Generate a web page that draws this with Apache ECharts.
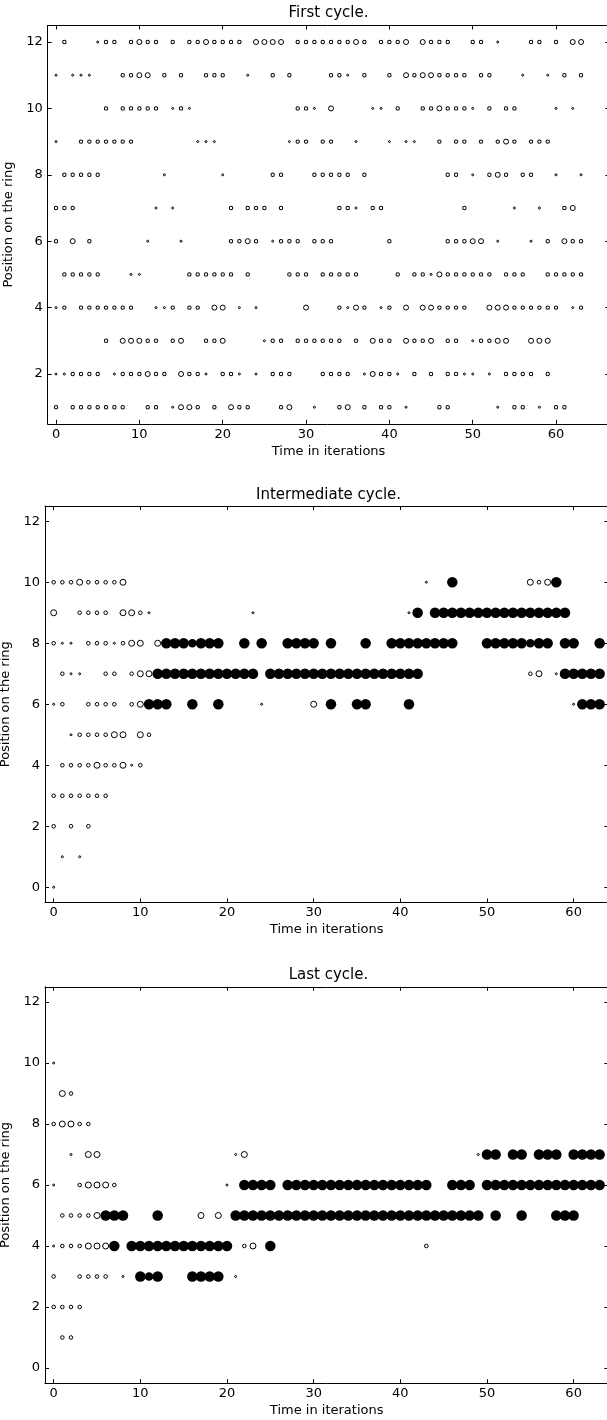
<!DOCTYPE html>
<html>
<head>
<meta charset="utf-8">
<script src="https://cdn.jsdelivr.net/npm/echarts@6/dist/echarts.min.js"></script>
<style>
html,body{margin:0;padding:0;background:#fff;}
#chart{width:607px;height:1420px;}
</style>
</head>
<body>
<div id="chart"></div>
<script>
// ---------- data: rows of [position on ring, [iterations]] ----------
const titles = ['First cycle.', 'Intermediate cycle.', 'Last cycle.'];
const xTicks = [0, 10, 20, 30, 40, 50, 60];
const yTicks1 = [2, 4, 6, 8, 10, 12];
const yTicks23 = [0, 2, 4, 6, 8, 10, 12];

// Panel 1 — First cycle (open circles only)
const firstTiny = [
  [12, [5, 53]],
  [11, [0, 2, 3, 4, 23, 35, 56, 59]],
  [10, [14, 16, 31, 38, 39, 50, 60, 62]],
  [9, [0, 17, 18, 19, 28, 36, 40, 42, 43]],
  [8, [13, 20, 50, 60, 63]],
  [7, [12, 14, 36, 55, 58]],
  [6, [11, 15, 26, 53, 57]],
  [5, [9, 10, 45]],
  [4, [0, 12, 13, 22, 24, 35, 39, 62]],
  [3, [25, 50]],
  [2, [0, 1, 7, 18, 22, 24, 37, 41, 49, 50, 52]],
  [1, [14, 31, 42, 53, 58]]
];
const firstSmall = [
  [12, [1, 6, 7, 9, 11, 12, 14, 16, 17, 19, 20, 21, 22, 29, 30, 31, 32, 33, 34, 35, 37, 39, 40, 41, 45, 46, 47, 50, 51, 57, 58, 60]],
  [11, [8, 9, 13, 15, 18, 19, 20, 26, 28, 33, 34, 37, 40, 43, 46, 47, 48, 49, 51, 52, 61, 63]],
  [10, [6, 8, 9, 10, 11, 12, 15, 29, 30, 41, 44, 45, 47, 48, 49, 52, 54, 55]],
  [9, [3, 4, 5, 6, 7, 8, 9, 29, 30, 32, 33, 46, 48, 49, 51, 53, 55, 57, 58, 59]],
  [8, [1, 2, 3, 4, 5, 26, 27, 31, 32, 33, 34, 35, 37, 47, 48, 52, 54, 56, 57]],
  [7, [0, 1, 2, 21, 23, 24, 25, 27, 34, 35, 38, 39, 49, 61]],
  [6, [0, 4, 21, 22, 24, 27, 28, 29, 31, 32, 33, 40, 47, 48, 49, 59, 62, 63]],
  [5, [1, 2, 3, 4, 5, 16, 17, 18, 19, 20, 21, 23, 28, 29, 30, 32, 33, 34, 35, 36, 41, 43, 44, 47, 48, 49, 50, 51, 52, 54, 55, 56, 59, 60, 61, 62, 63]],
  [4, [1, 3, 4, 5, 6, 7, 8, 9, 14, 16, 17, 34, 37, 40, 46, 47, 48, 49, 55, 56, 57, 58, 59, 60, 63]],
  [3, [6, 11, 12, 14, 18, 19, 26, 27, 29, 30, 31, 32, 33, 34, 36, 39, 40, 43, 44, 47, 48, 51, 52]],
  [2, [2, 3, 4, 5, 8, 9, 10, 12, 13, 16, 17, 20, 21, 26, 27, 28, 32, 33, 34, 35, 39, 40, 43, 45, 47, 48, 54, 55, 56, 57, 59]],
  [1, [0, 2, 3, 4, 5, 6, 7, 8, 11, 12, 17, 19, 22, 23, 27, 34, 37, 39, 40, 46, 47, 55, 56, 60, 61]]
];
const firstMedium = [
  [12, [10, 18, 24, 25, 26, 27, 36, 42, 44, 62, 63]],
  [11, [10, 11, 42, 44, 45]],
  [10, [33, 46]],
  [9, [54]],
  [8, [53]],
  [7, [62]],
  [6, [2, 23, 50, 51, 61]],
  [5, [46]],
  [4, [19, 20, 30, 36, 42, 44, 45, 52, 53, 54]],
  [3, [8, 9, 10, 15, 20, 38, 42, 45, 53, 54, 57, 58, 59]],
  [2, [11, 15, 38]],
  [1, [15, 16, 21, 28, 35]]
];

// Panel 2 — Intermediate cycle
const midTiny = [
  [10, [43]], [9, [11, 23, 41]], [8, [1, 2, 7]], [7, [2, 3, 58]],
  [6, [0, 24, 60]], [5, [2]], [4, [9]], [1, [1, 3]], [0, [0]]
];
const midSmall = [
  [10, [0, 1, 2, 4, 5, 6, 7, 56]],
  [9, [3, 4, 5, 6, 10]],
  [8, [0, 4, 5, 6, 8]],
  [7, [1, 6, 7, 9, 55]],
  [6, [1, 4, 5, 6, 7, 9]],
  [5, [3, 4, 5, 6, 11]],
  [4, [1, 2, 3, 4, 6, 7, 10]],
  [3, [0, 1, 2, 3, 4, 5, 6]],
  [2, [0, 2, 4]]
];
const midMedium = [
  [10, [3, 8, 55, 57]], [9, [0, 8, 9]], [8, [9, 10, 12]], [7, [10, 11, 56]],
  [6, [10, 30]], [5, [7, 8, 10]], [4, [5, 8]]
];
const midFilled = [
  [10, [46, 58]],
  [9, [42, 44, 45, 46, 47, 48, 49, 50, 51, 52, 53, 54, 55, 56, 57, 58, 59]],
  [8, [13, 14, 15, 17, 18, 19, 22, 24, 27, 28, 29, 30, 32, 36, 39, 40, 41, 42, 43, 44, 45, 46, 50, 51, 52, 53, 54, 56, 57, 59, 60, 63]],
  [7, [12, 13, 14, 15, 16, 17, 18, 19, 20, 21, 22, 23, 25, 26, 27, 28, 29, 30, 31, 32, 33, 34, 35, 36, 37, 38, 39, 40, 41, 42, 59, 60, 61, 62, 63]],
  [6, [11, 12, 13, 16, 19, 32, 35, 36, 41, 61, 62, 63]]
];
const midFilledSmall = [
  [8, [16, 55]]
];

// Panel 3 — Last cycle
const lastTiny = [
  [10, [0]], [7, [2, 21, 49]], [6, [0, 20]], [4, [0]], [3, [8, 21]]
];
const lastSmall = [
  [9, [2]], [8, [0, 3, 4]], [6, [3, 7]], [5, [1, 2, 3, 4]],
  [4, [1, 2, 3, 22, 43]], [3, [0, 3, 4, 5, 6]], [2, [0, 1, 2, 3]], [1, [1, 2]]
];
const lastMedium = [
  [9, [1]], [8, [1, 2]], [7, [4, 5, 22]], [6, [4, 5, 6]], [5, [5, 17, 19]], [4, [4, 5, 6, 23]]
];
const lastFilled = [
  [7, [50, 51, 53, 54, 56, 57, 58, 60, 61, 62, 63]],
  [6, [22, 23, 24, 25, 27, 28, 29, 30, 31, 32, 33, 34, 35, 36, 37, 38, 39, 40, 41, 42, 43, 46, 47, 48, 50, 51, 52, 53, 54, 55, 56, 57, 58, 59, 60, 61, 62, 63]],
  [5, [6, 7, 8, 12, 21, 22, 23, 24, 25, 26, 27, 28, 29, 30, 31, 32, 33, 34, 35, 36, 37, 38, 39, 40, 41, 42, 43, 44, 45, 46, 47, 48, 49, 51, 54, 58, 59, 60]],
  [4, [7, 9, 10, 11, 12, 13, 14, 15, 16, 17, 18, 19, 20, 25]],
  [3, [10, 12, 16, 17, 18, 19]]
];
const lastFilledSmall = [
  [3, [11]]
];

// ---------- layout ----------
const FONT = 'DejaVu Sans';
const grids = [
  { left: 47.7, top: 25.4, width: 561.7, height: 398.4, outerBoundsMode: 'none', containLabel: false },
  { left: 45, top: 506, width: 563.3, height: 396.5, outerBoundsMode: 'none', containLabel: false },
  { left: 45, top: 986.75, width: 563.3, height: 396.5, outerBoundsMode: 'none', containLabel: false }
];
const xRanges = [[-1, 66.4], [-1, 64], [-1, 64]];
const yRanges = [[0.5, 12.5], [-0.5, 12.5], [-0.5, 12.5]];
const yTickSets = [yTicks1, yTicks23, yTicks23];
const titleY = [13, 495, 975.5];

function flat(rows) {
  const out = [];
  for (const [y, xs] of rows) for (const x of xs) out.push([x, y]);
  return out;
}

const line = { show: true, onZero: false, lineStyle: { color: '#000', width: 1 } };
const xAxes = [], yAxes = [];
grids.forEach((g, i) => {
  const tick = { inside: true, length: 4, lineStyle: { color: '#000', width: 1 } };
  xAxes.push({
    gridIndex: i, type: 'value', position: 'bottom', min: xRanges[i][0], max: xRanges[i][1],
    axisLine: line, splitLine: { show: false },
    axisTick: Object.assign({ customValues: xTicks }, tick),
    axisLabel: { customValues: xTicks, color: '#000', fontFamily: FONT, fontSize: 13, margin: 4 },
    name: 'Time in iterations', nameLocation: 'middle', nameGap: 21,
    nameTextStyle: { fontFamily: FONT, fontSize: 13, color: '#000' }
  });
  xAxes.push({
    gridIndex: i, type: 'value', position: 'top', min: xRanges[i][0], max: xRanges[i][1],
    axisLine: line, splitLine: { show: false },
    axisTick: Object.assign({ customValues: xTicks }, tick),
    axisLabel: { show: false }
  });
  yAxes.push({
    gridIndex: i, type: 'value', position: 'left', min: yRanges[i][0], max: yRanges[i][1],
    axisLine: line, splitLine: { show: false },
    axisTick: Object.assign({ customValues: yTickSets[i] }, tick),
    axisLabel: { customValues: yTickSets[i], color: '#000', fontFamily: FONT, fontSize: 13, margin: 5 },
    name: 'Position on the ring', nameLocation: 'middle', nameGap: 26, nameRotate: 90,
    nameTextStyle: { fontFamily: FONT, fontSize: 13, color: '#000' }
  });
  yAxes.push({
    gridIndex: i, type: 'value', position: 'right', min: yRanges[i][0], max: yRanges[i][1],
    axisLine: line, splitLine: { show: false },
    axisTick: Object.assign({ customValues: yTickSets[i] }, tick),
    axisLabel: { show: false }
  });
});

function openSeries(i, rows, size) {
  return {
    type: 'scatter', xAxisIndex: i * 2, yAxisIndex: i * 2, silent: true,
    symbol: 'circle', symbolSize: size, data: flat(rows),
    itemStyle: { color: 'rgba(255,255,255,0)', borderColor: '#000', borderWidth: 1, opacity: 1 },
    emphasis: { disabled: true }
  };
}
function filledSeries(i, rows, size) {
  return {
    type: 'scatter', xAxisIndex: i * 2, yAxisIndex: i * 2, silent: true,
    symbol: 'circle', symbolSize: size, data: flat(rows),
    itemStyle: { color: '#000', borderWidth: 0, opacity: 1 },
    emphasis: { disabled: true }
  };
}

const series = [
  openSeries(0, firstTiny, 2),
  openSeries(0, firstSmall, 3.4),
  openSeries(0, firstMedium, 5),
  openSeries(1, midTiny, 2),
  openSeries(1, midSmall, 3.6),
  openSeries(1, midMedium, 6),
  filledSeries(1, midFilled, 10.5),
  filledSeries(1, midFilledSmall, 8.5),
  openSeries(2, lastTiny, 2),
  openSeries(2, lastSmall, 3.6),
  openSeries(2, lastMedium, 6),
  filledSeries(2, lastFilled, 10.5),
  filledSeries(2, lastFilledSmall, 8.5)
];

const graphic = titles.map((t, i) => ({
  type: 'text', x: grids[i].left + (i === 0 ? 280.8 : 283.5), y: titleY[i], silent: true,
  style: { text: t, font: '15px "DejaVu Sans"', fill: '#000', textAlign: 'center', textVerticalAlign: 'middle' }
}));

const chart = echarts.init(document.getElementById('chart'), null, { renderer: 'canvas' });
chart.setOption({
  backgroundColor: '#fff',
  animation: false,
  grid: grids,
  xAxis: xAxes,
  yAxis: yAxes,
  series: series,
  graphic: graphic
});
</script>
</body>
</html>
